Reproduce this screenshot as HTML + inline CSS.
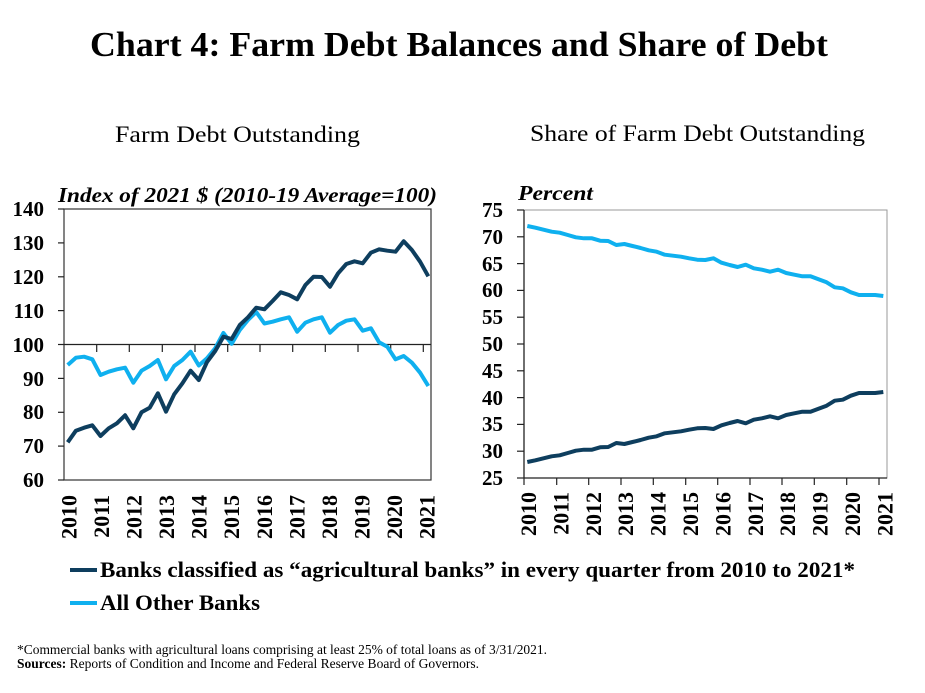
<!DOCTYPE html>
<html>
<head>
<meta charset="utf-8">
<style>
html,body{margin:0;padding:0;background:#fff;}
svg{display:block;}
text{font-family:"Liberation Serif","Times New Roman",serif;fill:#000;}
</style>
</head>
<body>
<svg width="925" height="693" viewBox="0 0 925 693" xmlns="http://www.w3.org/2000/svg">
<rect width="925" height="693" fill="#fff"/>
<!-- Title -->
<text x="90" y="56" font-size="35" font-weight="bold" textLength="738" lengthAdjust="spacingAndGlyphs">Chart 4: Farm Debt Balances and Share of Debt</text>
<!-- Subtitles -->
<text x="115" y="142" font-size="23" textLength="245" lengthAdjust="spacingAndGlyphs">Farm Debt Outstanding</text>
<text x="530" y="141" font-size="23" textLength="335" lengthAdjust="spacingAndGlyphs">Share of Farm Debt Outstanding</text>
<!-- Axis titles -->
<text x="58" y="202" font-size="21" font-weight="bold" font-style="italic" textLength="379" lengthAdjust="spacingAndGlyphs">Index of 2021 $ (2010-19 Average=100)</text>
<text x="518" y="200" font-size="21" font-weight="bold" font-style="italic" textLength="75" lengthAdjust="spacingAndGlyphs">Percent</text>

<!-- LEFT CHART -->
<rect x="64" y="209" width="367" height="271" fill="none" stroke="#333" stroke-width="1.2"/>
<line x1="64" y1="344.5" x2="431" y2="344.5" stroke="#222" stroke-width="1.3"/>
<g stroke="#222" stroke-width="1.2">
<line x1="58" y1="209" x2="64" y2="209"/>
<line x1="58" y1="242.9" x2="64" y2="242.9"/>
<line x1="58" y1="276.8" x2="64" y2="276.8"/>
<line x1="58" y1="310.6" x2="64" y2="310.6"/>
<line x1="58" y1="344.5" x2="64" y2="344.5"/>
<line x1="58" y1="378.4" x2="64" y2="378.4"/>
<line x1="58" y1="412.3" x2="64" y2="412.3"/>
<line x1="58" y1="446.1" x2="64" y2="446.1"/>
<line x1="58" y1="480" x2="64" y2="480"/>
<line x1="96.7" y1="344.5" x2="96.7" y2="352"/>
<line x1="129.3" y1="344.5" x2="129.3" y2="352"/>
<line x1="162.3" y1="344.5" x2="162.3" y2="352"/>
<line x1="195" y1="344.5" x2="195" y2="352"/>
<line x1="227.7" y1="344.5" x2="227.7" y2="352"/>
<line x1="260" y1="344.5" x2="260" y2="352"/>
<line x1="292.7" y1="344.5" x2="292.7" y2="352"/>
<line x1="325.3" y1="344.5" x2="325.3" y2="352"/>
<line x1="358" y1="344.5" x2="358" y2="352"/>
<line x1="390.7" y1="344.5" x2="390.7" y2="352"/>
<line x1="423.3" y1="344.5" x2="423.3" y2="352"/>
</g>
<g font-size="21" font-weight="bold" text-anchor="end">
<text x="44" y="216">140</text>
<text x="44" y="250">130</text>
<text x="44" y="284">120</text>
<text x="44" y="318">110</text>
<text x="44" y="352">100</text>
<text x="44" y="386">90</text>
<text x="44" y="419">80</text>
<text x="44" y="453">70</text>
<text x="44" y="487">60</text>
</g>
<g font-size="22" font-weight="bold" text-anchor="end">
<text transform="translate(76.5,495) rotate(-90)">2010</text>
<text transform="translate(109,495) rotate(-90)">2011</text>
<text transform="translate(141.6,495) rotate(-90)">2012</text>
<text transform="translate(174.1,495) rotate(-90)">2013</text>
<text transform="translate(206.7,495) rotate(-90)">2014</text>
<text transform="translate(239.2,495) rotate(-90)">2015</text>
<text transform="translate(271.8,495) rotate(-90)">2016</text>
<text transform="translate(304.3,495) rotate(-90)">2017</text>
<text transform="translate(336.9,495) rotate(-90)">2018</text>
<text transform="translate(369.4,495) rotate(-90)">2019</text>
<text transform="translate(402,495) rotate(-90)">2020</text>
<text transform="translate(434.5,495) rotate(-90)">2021</text>
</g>
<polyline fill="none" stroke="#0fb0ef" stroke-width="4" stroke-linejoin="round" points="67.7,365 75.9,357.7 84.1,356.7 92.3,359.3 100.5,375 108.7,371.7 116.9,369.3 125.1,367.7 133.3,382.7 141.5,370.7 149.7,366 157.9,360 166.0,379.3 174.2,366 182.4,360 190.6,351.7 198.8,365.5 207.0,358.3 215.2,348.3 223.4,333 231.6,343.8 239.8,330 248.0,320 256.2,312 264.4,323.5 272.6,321.7 280.8,319.3 289.0,317.3 297.2,331.7 305.4,322.7 313.6,319.3 321.8,317.3 330.0,332.7 338.1,325 346.3,320.7 354.5,319.3 362.7,330.7 370.9,328.3 379.1,342.3 387.3,346.7 395.5,359.3 403.7,356 411.9,362.7 420.1,372.7 428.3,386"/>
<polyline fill="none" stroke="#0e3e5e" stroke-width="4" stroke-linejoin="round" points="67.7,442.3 75.9,430.7 84.1,427.7 92.3,425.3 100.5,436 108.7,428.3 116.9,423.3 125.1,415.3 133.3,428.3 141.5,412.3 149.7,407.7 157.9,393.3 166.0,411.7 174.2,394.3 182.4,383.3 190.6,370.7 198.8,380 207.0,362 215.2,351 223.4,336.7 231.6,339 239.8,325 248.0,317.3 256.2,307.7 264.4,309.3 272.6,301 280.8,292.3 289.0,295 297.2,299.3 305.4,285 313.6,276.7 321.8,277 330.0,286.7 338.1,273.3 346.3,264 354.5,261.3 362.7,263.3 370.9,252.7 379.1,249.3 387.3,250.7 395.5,251.7 403.7,241.3 411.9,250 420.1,261.7 428.3,276.3"/>

<!-- RIGHT CHART -->
<rect x="524" y="210" width="363" height="268" fill="none" stroke="#999" stroke-width="1"/>
<line x1="524" y1="210" x2="524" y2="478" stroke="#222" stroke-width="1.3"/>
<line x1="524" y1="478" x2="887" y2="478" stroke="#222" stroke-width="1.3"/>
<g stroke="#222" stroke-width="1.2">
<line x1="517" y1="210" x2="524" y2="210"/>
<line x1="517" y1="236.8" x2="524" y2="236.8"/>
<line x1="517" y1="263.6" x2="524" y2="263.6"/>
<line x1="517" y1="290.4" x2="524" y2="290.4"/>
<line x1="517" y1="317.2" x2="524" y2="317.2"/>
<line x1="517" y1="344" x2="524" y2="344"/>
<line x1="517" y1="370.8" x2="524" y2="370.8"/>
<line x1="517" y1="397.6" x2="524" y2="397.6"/>
<line x1="517" y1="424.4" x2="524" y2="424.4"/>
<line x1="517" y1="451.2" x2="524" y2="451.2"/>
<line x1="517" y1="478" x2="524" y2="478"/>
<line x1="524" y1="478" x2="524" y2="485"/>
<line x1="556.7" y1="478" x2="556.7" y2="485"/>
<line x1="588.7" y1="478" x2="588.7" y2="485"/>
<line x1="621" y1="478" x2="621" y2="485"/>
<line x1="653.3" y1="478" x2="653.3" y2="485"/>
<line x1="685.7" y1="478" x2="685.7" y2="485"/>
<line x1="717.7" y1="478" x2="717.7" y2="485"/>
<line x1="750" y1="478" x2="750" y2="485"/>
<line x1="782" y1="478" x2="782" y2="485"/>
<line x1="814.3" y1="478" x2="814.3" y2="485"/>
<line x1="846.7" y1="478" x2="846.7" y2="485"/>
<line x1="879" y1="478" x2="879" y2="485"/>
</g>
<g font-size="21" font-weight="bold" text-anchor="end">
<text x="503" y="217">75</text>
<text x="503" y="244">70</text>
<text x="503" y="271">65</text>
<text x="503" y="297">60</text>
<text x="503" y="324">55</text>
<text x="503" y="351">50</text>
<text x="503" y="378">45</text>
<text x="503" y="405">40</text>
<text x="503" y="431">35</text>
<text x="503" y="458">30</text>
<text x="503" y="485">25</text>
</g>
<g font-size="22" font-weight="bold" text-anchor="end">
<text transform="translate(536,492) rotate(-90)">2010</text>
<text transform="translate(568.4,492) rotate(-90)">2011</text>
<text transform="translate(600.8,492) rotate(-90)">2012</text>
<text transform="translate(633.2,492) rotate(-90)">2013</text>
<text transform="translate(665.6,492) rotate(-90)">2014</text>
<text transform="translate(698,492) rotate(-90)">2015</text>
<text transform="translate(730.4,492) rotate(-90)">2016</text>
<text transform="translate(762.8,492) rotate(-90)">2017</text>
<text transform="translate(795.2,492) rotate(-90)">2018</text>
<text transform="translate(827.6,492) rotate(-90)">2019</text>
<text transform="translate(860,492) rotate(-90)">2020</text>
<text transform="translate(892.4,492) rotate(-90)">2021</text>
</g>
<polyline fill="none" stroke="#0fb0ef" stroke-width="4" stroke-linejoin="round" points="527.3,226 535.4,227.7 543.5,229.7 551.6,231.7 559.7,232.7 567.8,235 575.8,237.3 583.9,238.3 592.0,238.3 600.1,240.7 608.2,241 616.3,245 624.4,244 632.5,246 640.6,248 648.7,250.3 656.7,251.7 664.8,254.7 672.9,255.7 681.0,256.7 689.1,258.3 697.2,259.7 705.3,260 713.4,258.3 721.5,262.7 729.6,265 737.6,267 745.7,264.7 753.8,268.3 761.9,269.7 770.0,271.7 778.1,269.7 786.2,273 794.3,274.7 802.4,276.3 810.5,276.3 818.5,279.3 826.6,282.3 834.7,287.3 842.8,288.3 850.9,292.3 859.0,295 867.1,295 875.2,295 883.3,296"/>
<polyline fill="none" stroke="#0e3e5e" stroke-width="4" stroke-linejoin="round" points="527.3,462 535.4,460.3 543.5,458.3 551.6,456.3 559.7,455.3 567.8,453 575.8,450.7 583.9,449.7 592.0,449.7 600.1,447.3 608.2,447 616.3,443 624.4,444 632.5,442 640.6,440 648.7,437.7 656.7,436.3 664.8,433.3 672.9,432.3 681.0,431.3 689.1,429.7 697.2,428.3 705.3,428 713.4,429 721.5,425.3 729.6,423 737.6,421 745.7,423.3 753.8,419.7 761.9,418.3 770.0,416.3 778.1,418.3 786.2,415 794.3,413.3 802.4,411.7 810.5,411.7 818.5,408.7 826.6,405.7 834.7,400.7 842.8,399.7 850.9,395.7 859.0,393 867.1,393 875.2,393 883.3,392"/>

<!-- Legend -->
<line x1="70" y1="570" x2="97" y2="570" stroke="#0e3e5e" stroke-width="4"/>
<text x="100" y="577" font-size="22" font-weight="bold" textLength="755" lengthAdjust="spacingAndGlyphs">Banks classified as “agricultural banks” in every quarter from 2010 to 2021*</text>
<line x1="70" y1="603" x2="97" y2="603" stroke="#0fb0ef" stroke-width="4"/>
<text x="100" y="610" font-size="22" font-weight="bold" textLength="160" lengthAdjust="spacingAndGlyphs">All Other Banks</text>

<!-- Footnotes -->
<text x="17" y="654" font-size="14" textLength="530" lengthAdjust="spacingAndGlyphs">*Commercial banks with agricultural loans comprising at least 25% of total loans as of 3/31/2021.</text>
<text x="17" y="668" font-size="14" textLength="462" lengthAdjust="spacingAndGlyphs"><tspan font-weight="bold">Sources:</tspan> Reports of Condition and Income and Federal Reserve Board of Governors.</text>
</svg>
</body>
</html>
